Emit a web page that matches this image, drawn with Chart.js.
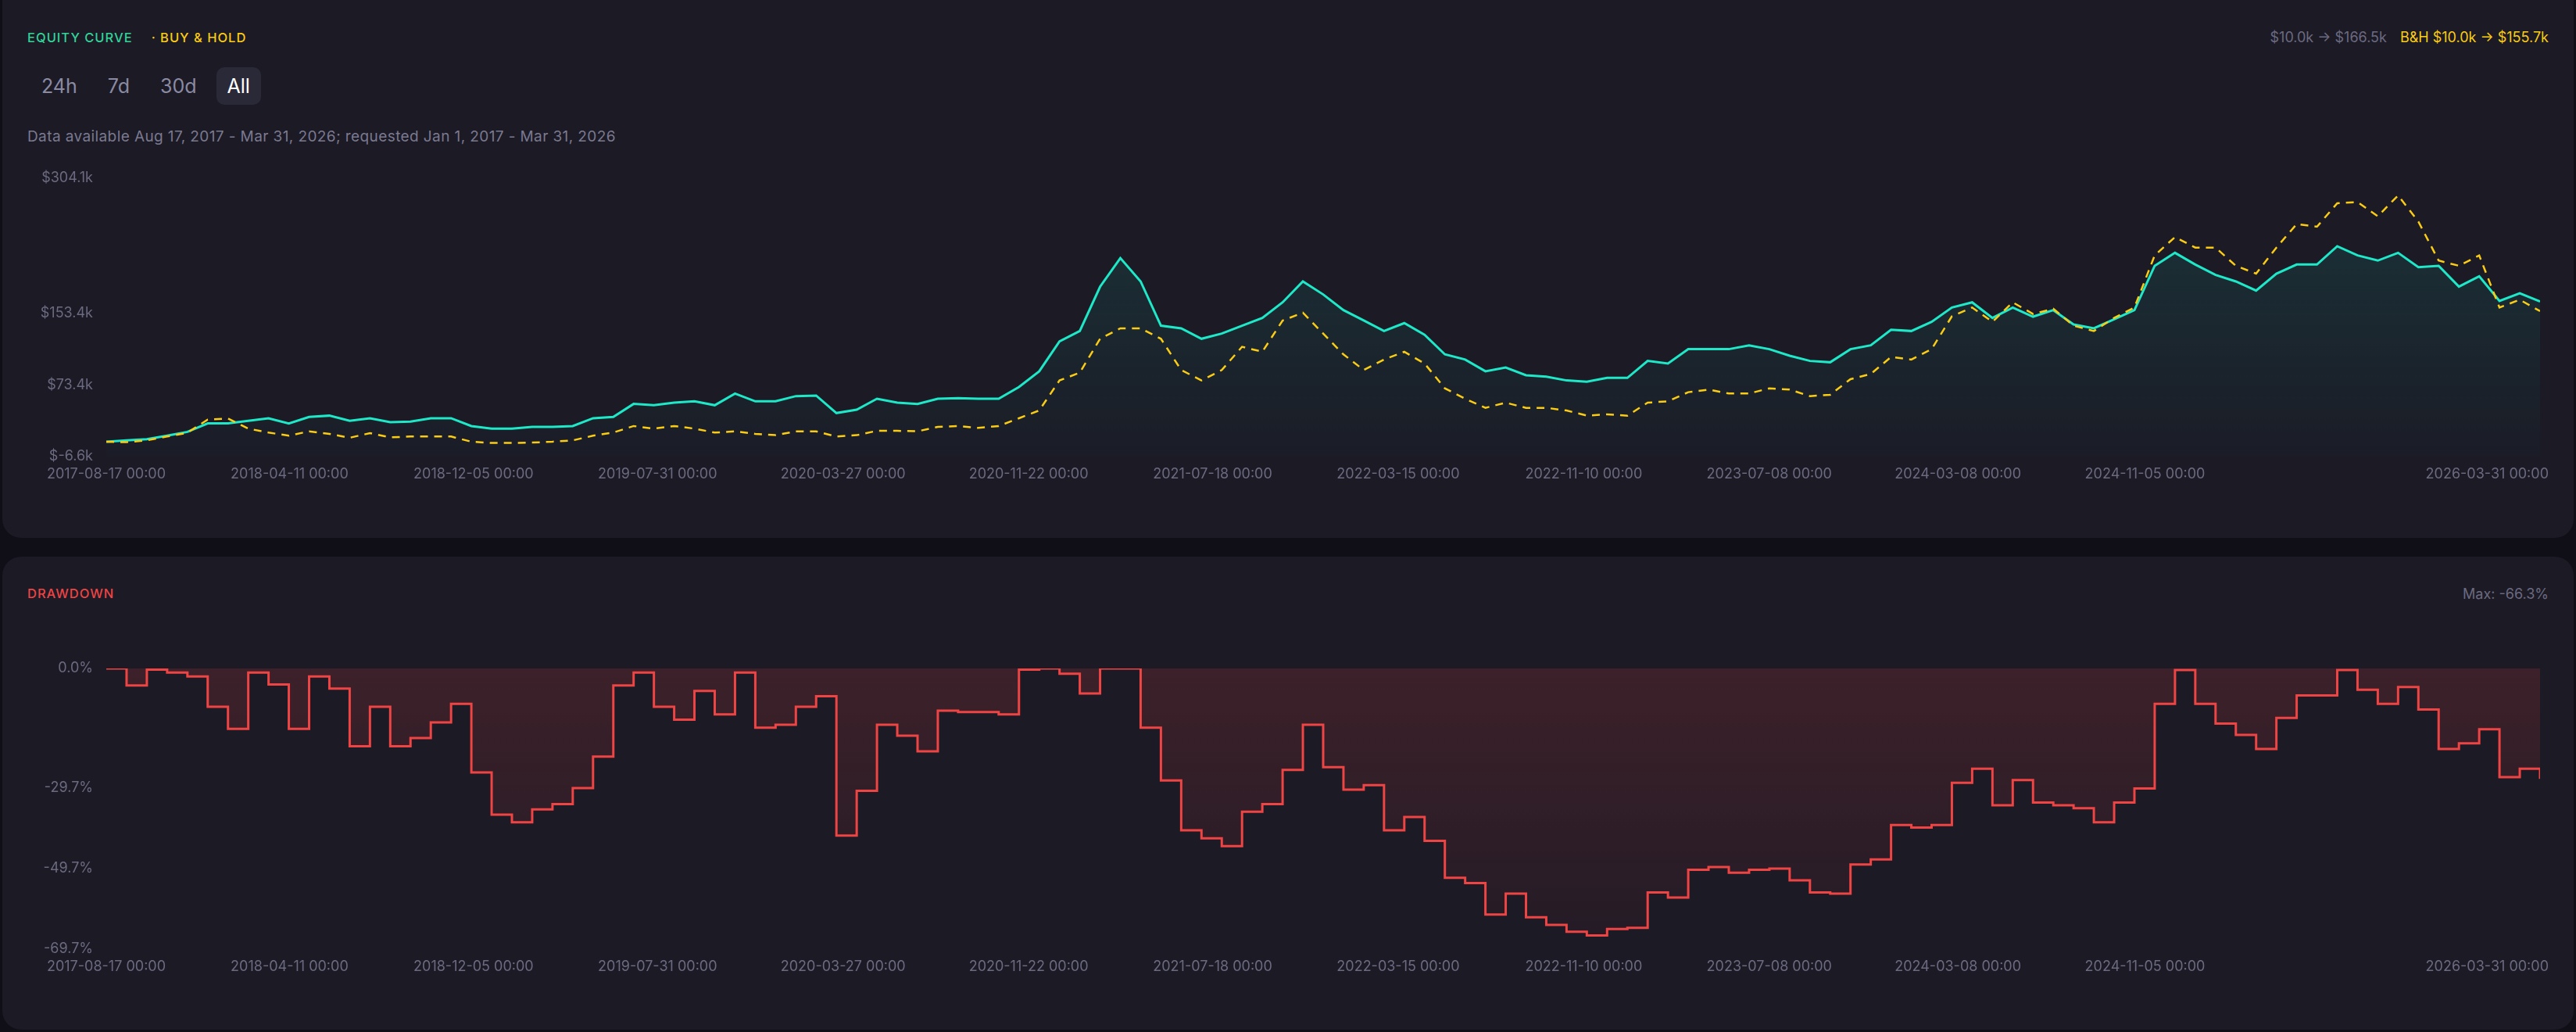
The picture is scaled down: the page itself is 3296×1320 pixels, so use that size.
<!DOCTYPE html>
<html>
<head>
<meta charset="utf-8">
<title>Equity curve</title>
<script src="https://cdn.jsdelivr.net/npm/chart.js@4.4.1/dist/chart.umd.min.js"></script>
<style>
  html, body { margin: 0; padding: 0; width: 3296px; height: 1320px; overflow: hidden; background: #100f17; font-family: Inter, "Noto Sans", sans-serif; }
  .panel { position: absolute; left: 3px; width: 3290px; background: #1b1a25; border-radius: 24px; }
  #p1 { top: -24px; height: 712px; }
  #p2 { top: 712px; height: 605px; }
  .t { position: absolute; white-space: nowrap; line-height: 1; }
  .title { font-size: 16.5px; font-weight: 500; letter-spacing: 1px; }
  .info { font-size: 18px; }
  #btns { position: absolute; left: 39px; top: 86px; display: flex; gap: 11px; }
  #btns div { height: 48px; line-height: 48px; padding: 0 14px; font-size: 25px; color: #8b8aa3; border-radius: 10px; }
  #btns div.on { background: #2a2938; color: #fff; }
  canvas { position: absolute; left: 0; }
</style>
</head>
<body>
<div class="panel" id="p1"></div>
<div class="panel" id="p2"></div>

<div class="t title" style="left:35px;top:40px;"><span style="color:#34d399;">EQUITY CURVE</span><span style="color:#facc15;margin-left:24px;">· BUY &amp; HOLD</span></div>
<div class="t info" style="right:35px;top:39px;"><span style="color:#6b6a80;">$10.0k → $166.5k</span><span style="color:#facc15;margin-left:17px;">B&amp;H $10.0k → $155.7k</span></div>
<div id="btns"><div>24h</div><div>7d</div><div>30d</div><div class="on">All</div></div>
<div class="t info" style="left:35px;top:165px;color:#7a7990;font-size:19px;letter-spacing:0.4px;">Data available Aug 17, 2017 - Mar 31, 2026; requested Jan 1, 2017 - Mar 31, 2026</div>

<div class="t title" style="left:35px;top:751px;color:#ef4444;">DRAWDOWN</div>
<div class="t info" style="right:35px;top:751px;color:#6b6a80;">Max: -66.3%</div>

<canvas id="eq" width="3296" height="440" style="top:200px;width:3296px;height:440px;"></canvas>
<canvas id="dd" width="3296" height="440" style="top:820px;width:3296px;height:440px;"></canvas>

<script>
// x axis: dates shown under both charts
const tickLabels = ['2017-08-17 00:00', '2018-04-11 00:00', '2018-12-05 00:00', '2019-07-31 00:00', '2020-03-27 00:00',
  '2020-11-22 00:00', '2021-07-18 00:00', '2022-03-15 00:00', '2022-11-10 00:00', '2023-07-08 00:00',
  '2024-03-08 00:00', '2024-11-05 00:00', '2026-03-31 00:00'];
const firstDate = '2017-08-17';
const lastDate = '2026-03-31';

// strategy equity, thousands of $, evenly spaced samples from first to last date
const equity = [10.0, 11.5, 12.9, 16.7, 21.0, 30.4, 30.4, 33.3, 36.2, 30.4,
  37.6, 39.1, 33.3, 36.2, 31.8, 32.4, 36.2, 36.2, 27.5, 24.6,
  24.6, 26.6, 26.6, 27.5, 36.2, 37.6, 52.2, 50.7, 53.6, 55.1,
  50.7, 63.8, 55.1, 55.1, 60.9, 61.5, 42.0, 45.8, 58.0, 53.6,
  52.2, 58.0, 58.6, 58.0, 58.0, 71.1, 88.6, 122.0, 133.6, 183.0,
  215.0, 188.9, 139.5, 136.6, 124.9, 130.7, 139.5, 148.2, 165.6, 188.9,
  174.4, 156.9, 145.3, 133.6, 142.4, 129.3, 107.5, 101.7, 88.6, 92.9,
  84.2, 82.7, 78.4, 76.9, 81.3, 81.3, 100.2, 97.3, 113.3, 113.3,
  113.3, 117.6, 113.3, 106.0, 100.2, 98.7, 113.3, 117.6, 135.0, 133.6,
  143.8, 159.8, 165.6, 148.2, 159.8, 149.6, 156.9, 140.9, 136.6, 146.7,
  156.9, 206.4, 220.9, 207.8, 196.2, 188.9, 178.7, 197.6, 207.8, 207.8,
  228.2, 218.0, 212.2, 220.9, 204.9, 206.4, 183.1, 194.7, 167.1, 175.8,
  166.5];

// buy & hold, same samples
const buyHold = [10.0, 9.5, 11.5, 15.8, 20.0, 34.7, 36.0, 24.6, 20.2, 16.7,
  21.6, 18.7, 14.4, 19.6, 14.9, 15.8, 15.8, 15.8, 10.0, 8.6,
  8.6, 9.1, 10.0, 11.5, 16.7, 20.2, 27.5, 24.6, 27.5, 24.6,
  20.2, 21.6, 18.7, 17.3, 21.6, 21.6, 15.8, 17.3, 22.2, 22.2,
  21.6, 26.6, 27.5, 25.4, 27.5, 36.2, 44.9, 78.4, 87.1, 124.9,
  136.6, 136.6, 124.9, 90.0, 78.4, 90.0, 116.0, 110.4, 145.3, 154.0,
  130.7, 107.5, 90.0, 101.7, 110.4, 97.3, 69.6, 58.0, 47.8, 53.6,
  47.8, 47.8, 44.9, 39.1, 40.5, 39.1, 53.6, 55.1, 65.3, 68.2,
  63.8, 63.8, 69.6, 68.2, 60.9, 62.4, 79.8, 85.6, 104.6, 101.7,
  113.3, 150.0, 159.8, 143.8, 165.6, 152.6, 158.4, 139.5, 133.6, 148.2,
  159.8, 218.0, 238.4, 226.7, 226.7, 206.4, 197.6, 226.7, 252.9, 250.0,
  276.2, 277.6, 261.6, 284.9, 255.8, 212.2, 206.4, 218.0, 159.8, 168.5,
  155.7];

// drawdown of the strategy, %
const drawdown = [0, -4.2, -0.3, -1.0, -2.0, -9.5, -15.0, -1.0, -4.0, -15.0,
  -2.0, -5.0, -19.3, -9.5, -19.3, -17.3, -13.4, -8.8, -25.8, -36.3,
  -38.2, -35.0, -33.7, -29.7, -21.9, -4.2, -1.0, -9.5, -12.7, -5.6,
  -11.4, -1.0, -14.7, -14.0, -9.5, -6.9, -41.5, -30.4, -14.0, -16.7,
  -20.6, -10.5, -10.8, -10.8, -11.4, -0.3, 0, -1.3, -6.2, 0,
  0, -14.7, -27.8, -40.2, -42.2, -44.1, -35.6, -33.7, -25.2, -14.0,
  -24.5, -30.1, -29.0, -40.2, -36.9, -42.8, -52.0, -53.3, -61.1, -55.9,
  -61.8, -63.7, -65.4, -66.3, -64.7, -64.4, -55.6, -56.9, -50.0, -49.3,
  -50.7, -50.0, -49.7, -52.6, -55.6, -55.9, -48.7, -47.4, -38.9, -39.5,
  -38.9, -28.4, -24.9, -34.0, -27.7, -33.3, -34.0, -34.7, -38.2, -33.3,
  -29.8, -8.8, -0.4, -8.8, -13.7, -16.5, -20.0, -12.3, -6.7, -6.7,
  -0.4, -5.3, -8.8, -4.6, -10.2, -20.0, -18.6, -15.1, -27.0, -24.9,
  -27.4];

const eqTicks = [-6.6, 73.4, 153.4, 304.1];
const ddTicks = [-69.7, -49.7, -29.7, 0];

const AXIS = '#6b6a80';
const DAY = 864e5;
const lastDay = (Date.parse(lastDate) - Date.parse(firstDate)) / DAY;
const tickDays = tickLabels.map(s => (Date.parse(s.slice(0, 10)) - Date.parse(firstDate)) / DAY);
const toPoints = arr => arr.map((v, i) => ({ x: i * lastDay / (arr.length - 1), y: v }));

Chart.defaults.font.family = 'Inter';
Chart.defaults.font.size = 18;
Chart.defaults.color = AXIS;

function vGrad(c, from, to) {
  const a = c.chart.chartArea;
  if (!a) return 'transparent';
  const g = c.chart.ctx.createLinearGradient(0, a.top, 0, a.bottom);
  g.addColorStop(0, from);
  g.addColorStop(1, to);
  return g;
}

// last date label sits flush with the panel's right padding
const lastLabel = {
  id: 'lastLabel',
  afterDraw(chart) {
    const ctx = chart.ctx;
    ctx.save();
    ctx.font = '18px Inter';
    ctx.fillStyle = AXIS;
    ctx.textAlign = 'right';
    ctx.textBaseline = 'middle';
    ctx.fillText(tickLabels[tickLabels.length - 1], 3261, chart.chartArea.bottom + 12 + 10.8);
    ctx.restore();
  }
};

function makeChart(id, datasets, yMin, yMax, yTicks, fmt, padTop, axisH) {
  return new Chart(document.getElementById(id), {
    type: 'line',
    data: { datasets },
    plugins: [lastLabel],
    options: {
      responsive: false,
      animation: false,
      devicePixelRatio: 1,
      layout: { padding: { top: padTop, right: 46, bottom: 0, left: 0 } },
      plugins: { legend: { display: false }, tooltip: { enabled: false } },
      elements: { point: { radius: 0 }, line: { tension: 0 } },
      scales: {
        x: {
          type: 'linear', min: 0, max: lastDay,
          grid: { display: false, drawTicks: false }, border: { display: false },
          afterBuildTicks: s => { s.ticks = tickDays.map(v => ({ value: v })); },
          afterFit: s => { s.height = axisH; },
          ticks: { autoSkip: false, maxRotation: 0, padding: 12,
            callback: (v, i) => i === tickLabels.length - 1 ? '' : tickLabels[i] }
        },
        y: {
          min: yMin, max: yMax,
          grid: { display: false, drawTicks: false }, border: { display: false },
          afterBuildTicks: s => { s.ticks = yTicks.map(v => ({ value: v })); },
          afterFit: s => { s.width = 136; },
          ticks: { padding: 17, callback: fmt }
        }
      }
    }
  });
}

makeChart('eq', [
  { data: toPoints(buyHold), order: 0, borderColor: '#facc15', borderWidth: 2.5, borderDash: [10, 8], fill: false },
  { data: toPoints(equity), order: 1, borderColor: '#1ee8c8', borderWidth: 3, fill: 'start',
    backgroundColor: c => vGrad(c, 'rgba(30,232,200,0.13)', 'rgba(30,232,200,0.01)') }
], -6.6, 304.1, eqTicks, v => '$' + v.toFixed(1) + 'k', 28, 56);

makeChart('dd', [
  { data: toPoints(drawdown), borderColor: '#ef4444', borderWidth: 3, stepped: true, fill: 'origin',
    backgroundColor: c => vGrad(c, 'rgba(239,68,68,0.16)', 'rgba(239,68,68,0.04)') }
], -69.7, 0, ddTicks, v => v.toFixed(1) + '%', 35, 46);
</script>
</body>
</html>
